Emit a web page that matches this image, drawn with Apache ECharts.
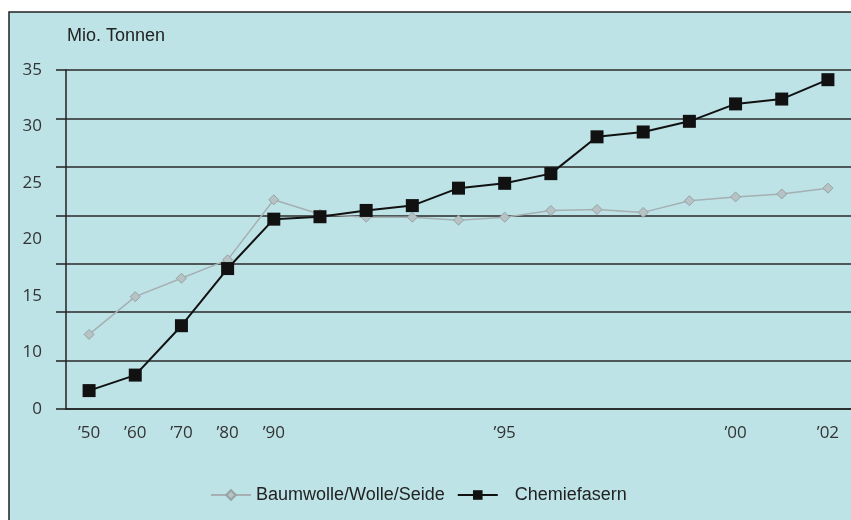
<!DOCTYPE html>
<html>
<head>
<meta charset="utf-8">
<script src="https://cdn.jsdelivr.net/npm/echarts@6/dist/echarts.min.js"></script>
<style>
  * { margin: 0; padding: 0; }
  body { background: #fff; }
  #main { width: 851px; height: 520px; }
</style>
</head>
<body>
<div id="main"></div>
<script>
// Jahre (nur einige beschriftet)
var years = ['’50', '’60', '’70', '’80', '’90', '', '', '', '', '’95', '', '', '', '', '’00', '', '’02']
var naturfasern = [7.7, 11.6, 13.5, 15.4, 21.6, 20.1, 19.8, 19.8, 19.5, 19.8, 20.5, 20.6, 20.3, 21.5, 21.9, 22.2, 22.8]
var chemiefasern = [1.9, 3.5, 8.6, 14.5, 19.6, 19.85, 20.5, 21.0, 22.8, 23.3, 24.3, 28.1, 28.6, 29.7, 31.5, 32.0, 34.0]
// Beschriftung der y-Achse, so wie sie im Original verteilt ist
var yLabels = ['0', '10', '15', '20', '25', '30', '35']

var bg = '#bde3e6'
var myChart = echarts.init(document.getElementById('main'))

var option = {
  backgroundColor: '#fff',
  animation: false,
  graphic: [{
    type: 'rect',
    z: -10,
    shape: { x: 9, y: 12, width: 900, height: 600 },
    style: { fill: bg, stroke: '#222', lineWidth: 1.5 }
  }],
  title: {
    text: 'Mio. Tonnen',
    left: 62,
    top: 22,
    textStyle: { fontFamily: 'Liberation Sans', fontSize: 18, fontWeight: 'normal', color: '#222' }
  },
  legend: {
    left: 205,
    top: 481,
    itemWidth: 40,
    itemHeight: 12,
    itemGap: 12,
    textStyle: {
      fontFamily: 'Liberation Sans',
      fontSize: 18,
      color: '#222',
      rich: {
        a: { fontFamily: 'Liberation Sans', fontSize: 18, color: '#222' },
        b: { fontFamily: 'Liberation Sans', fontSize: 18, color: '#222', padding: [0, 0, 0, 12] }
      }
    },
    formatter: function (name) {
      return name === 'Chemiefasern' ? '{b|' + name + '}' : '{a|' + name + '}'
    },
    data: ['Baumwolle/Wolle/Seide', 'Chemiefasern']
  },
  grid: { left: 66, right: -7, top: 70, bottom: 111 },
  xAxis: {
    type: 'category',
    data: years,
    boundaryGap: true,
    axisLine: { lineStyle: { color: '#222', width: 1.5 } },
    axisTick: { interval: 0, length: 6, lineStyle: { color: '#222', width: 1.5 } },
    axisLabel: {
      interval: 0,
      margin: 16,
      fontFamily: 'Open Sans',
      fontSize: 17,
      color: '#333'
    }
  },
  yAxis: [{
    type: 'value',
    min: 0,
    max: 35,
    interval: 5,
    axisLine: { show: true, lineStyle: { color: '#222', width: 1.5 } },
    axisTick: { show: true, length: 10, lineStyle: { color: '#222', width: 1.5 } },
    axisLabel: { show: false },
    splitLine: { lineStyle: { color: '#2a2a2a', width: 1.5 } }
  }, {
    // nur für die Beschriftung
    type: 'value',
    position: 'left',
    min: 0,
    max: 6,
    interval: 1,
    axisLine: { show: false },
    axisTick: { show: false },
    splitLine: { show: false },
    axisLabel: {
      margin: 24,
      fontFamily: 'Open Sans',
      fontSize: 17,
      color: '#333',
      formatter: function (v) { return yLabels[v] }
    }
  }],
  series: [{
    name: 'Baumwolle/Wolle/Seide',
    type: 'line',
    data: naturfasern,
    symbol: 'diamond',
    symbolSize: 10,
    lineStyle: { color: '#a6afb1', width: 1.5 },
    itemStyle: { color: '#b6c2c4', borderColor: '#97a2a4', borderWidth: 1 }
  }, {
    name: 'Chemiefasern',
    type: 'line',
    data: chemiefasern,
    symbol: 'rect',
    symbolSize: 13,
    lineStyle: { color: '#111', width: 2 },
    itemStyle: { color: '#111' }
  }]
}

myChart.setOption(option)
</script>
</body>
</html>
